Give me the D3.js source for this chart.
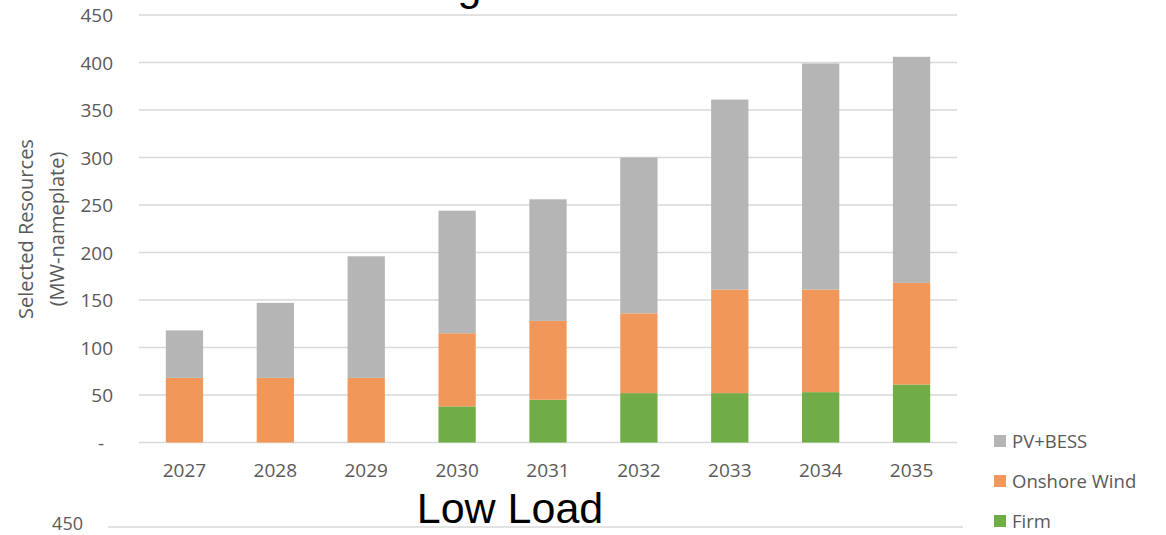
<!DOCTYPE html>
<html>
<head>
<meta charset="utf-8">
<script src="https://cdn.jsdelivr.net/npm/d3@7"></script>
<style>
  html, body { margin: 0; padding: 0; background: #fff; }
  svg { display: block; }
</style>
</head>
<body>
<svg id="chart" width="1166" height="535"></svg>
<script>
// ---- data ----
const years = ["2027", "2028", "2029", "2030", "2031", "2032", "2033", "2034", "2035"];
const firm = [0, 0, 0, 38, 45, 52, 52, 53, 61];
const onshoreWind = [68, 68, 68, 77, 83, 84, 109, 108, 107];
const pvBess = [50, 79, 128, 129, 128, 164, 200, 238, 238];
const yTicks = [0, 50, 100, 150, 200, 250, 300, 350, 400, 450];
const seriesNames = ["Firm", "Onshore Wind", "PV+BESS"];
const seriesColors = ["#70AD47", "#F1975A", "#B5B5B5"];
const legendOrder = ["PV+BESS", "Onshore Wind", "Firm"];

const rows = years.map((y, i) => ({
  year: y,
  "Firm": firm[i],
  "Onshore Wind": onshoreWind[i],
  "PV+BESS": pvBess[i]
}));

const svg = d3.select("#chart");
const tickFont = "'Open Sans', sans-serif";
const textColor = "#595959";

const x = d3.scaleBand().domain(years).range([139, 957])
  .paddingInner(0.59).paddingOuter(0.295);
const y = d3.scaleLinear().domain([0, 450]).range([442.5, 15]);
const color = d3.scaleOrdinal().domain(seriesNames).range(seriesColors);

// gridlines
svg.append("g").selectAll("line").data(yTicks).join("line")
  .attr("x1", 139).attr("x2", 957)
  .attr("y1", d => y(d)).attr("y2", d => y(d))
  .attr("stroke", "#d9d9d9").attr("stroke-width", 1.5);

// y axis labels
const yAxis = d3.axisLeft(y).tickValues(yTicks)
  .tickFormat(d => d === 0 ? "-" : d3.format("d")(d)).tickSize(0).tickPadding(0);
const yg = svg.append("g").attr("transform", "translate(113,0)").call(yAxis);
yg.select(".domain").remove();
yg.selectAll("text")
  .attr("fill", textColor).style("font-family", tickFont).style("font-size", "19px")
  .attr("dy", "0.36em")
  .attr("x", d => d === 0 ? -9 : 0);

// bars
const stacked = d3.stack().keys(seriesNames)(rows);
svg.append("g").selectAll("g").data(stacked).join("g")
  .attr("fill", d => color(d.key))
  .selectAll("rect").data(d => d).join("rect")
  .attr("x", d => x(d.data.year))
  .attr("width", x.bandwidth())
  .attr("y", d => y(d[1]))
  .attr("height", d => y(d[0]) - y(d[1]));

// x axis labels
const xAxis = d3.axisBottom(x).tickSize(0).tickPadding(0);
const xg = svg.append("g").attr("transform", "translate(0,463)").call(xAxis);
xg.select(".domain").remove();
xg.selectAll("text")
  .attr("fill", textColor).style("font-family", tickFont).style("font-size", "19px")
  .attr("dy", "0.71em").attr("y", 0);

// y axis title
const yt = svg.append("text")
  .attr("transform", "translate(0,229) rotate(-90)")
  .attr("text-anchor", "middle")
  .attr("fill", textColor).style("font-family", tickFont).style("font-size", "20px");
yt.append("tspan").attr("x", 0).attr("y", 33).text("Selected Resources");
yt.append("tspan").attr("x", 0).attr("y", 64).text("(MW-nameplate)");

// legend
const lg = svg.append("g").selectAll("g").data(legendOrder).join("g")
  .attr("transform", (d, i) => `translate(994,${441 + i * 40})`);
lg.append("rect").attr("x", 0).attr("y", -6).attr("width", 12).attr("height", 12)
  .attr("fill", d => color(d));
lg.append("text").attr("x", 18).attr("y", 0).attr("dy", "0.36em")
  .attr("fill", textColor).style("font-family", tickFont).style("font-size", "18.5px")
  .text(d => d);

// titles (top one cropped off, bottom one is the next chart's title)
svg.append("text").attr("x", 515).attr("y", 0).attr("text-anchor", "middle")
  .style("font-family", "'Liberation Sans', Arial, sans-serif").style("font-size", "43px")
  .attr("fill", "#000").text("High Load");
svg.append("text").attr("x", 510).attr("y", 523).attr("text-anchor", "middle")
  .style("font-family", "'Liberation Sans', Arial, sans-serif").style("font-size", "43px")
  .attr("fill", "#000").text("Low Load");

// next chart's top gridline and label
svg.append("line").attr("x1", 108).attr("x2", 963).attr("y1", 527).attr("y2", 527)
  .attr("stroke", "#d9d9d9").attr("stroke-width", 1.5);
svg.append("text").attr("x", 83).attr("y", 524).attr("dy", "0.36em")
  .attr("text-anchor", "end").attr("fill", textColor)
  .style("font-family", tickFont).style("font-size", "18px").text("450");
</script>
</body>
</html>
